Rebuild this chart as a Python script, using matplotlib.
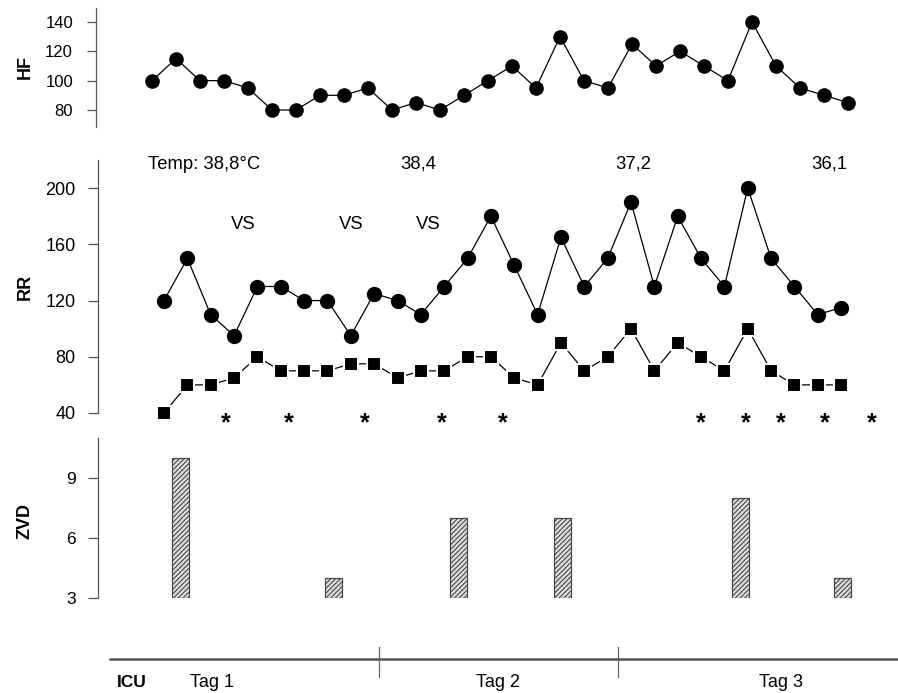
import matplotlib
matplotlib.use("Agg")
import matplotlib.pyplot as plt

plt.rcParams["font.family"] = ["Liberation Sans", "DejaVu Sans"]
plt.rcParams["hatch.linewidth"] = 0.8

# heart rate, one value per measurement
hf = [100, 115, 100, 100, 95, 80, 80, 90, 90, 95, 80, 85, 80, 90, 100,
      110, 95, 130, 100, 95, 125, 110, 120, 110, 100, 140, 110, 95, 90, 85]

# blood pressure (systolic / diastolic), one value per measurement
rr_sys = [120, 150, 110, 95, 130, 130, 120, 120, 95, 125, 120, 110, 130, 150, 180,
          145, 110, 165, 130, 150, 190, 130, 180, 150, 130, 200, 150, 130, 110, 115]
rr_dia = [40, 60, 60, 65, 80, 70, 70, 70, 75, 75, 65, 70, 70, 80, 80,
          65, 60, 90, 70, 80, 100, 70, 90, 80, 70, 100, 70, 60, 60, 60]

# asterisk and "VS" annotations (in measurement units)
star_pos = [2.66, 5.35, 8.6, 11.9, 14.5, 23.0, 24.9, 26.4, 28.3, 30.3]
vs_pos = [3.4, 8.0, 11.3]

# temperature notes
temp_pos = [-0.7, 10.9, 20.1, 28.5]
temp_labels = ["Temp: 38,8°C", "38,4", "37,2", "36,1"]

# central venous pressure bars
zvd_pos = [0.69, 7.24, 12.63, 17.05, 24.67, 29.04]
zvd = [10, 4, 7, 7, 8, 4]

days = ["Tag 1", "Tag 2", "Tag 3"]
day_label_pos = [0.30, 1.50, 2.68]
day_bounds = [1, 2]

W, H = 898, 693
fig = plt.figure(figsize=(W / 100, H / 100), dpi=100)


def box(l, r, t, b):
    return [l / W, 1 - b / H, (r - l) / W, (b - t) / H]


def style(ax, size, length=7.0, pad=8):
    for s in ["top", "right", "bottom"]:
        ax.spines[s].set_visible(False)
    ax.spines["left"].set_color("#555555")
    ax.spines["left"].set_linewidth(0.9)
    ax.tick_params(axis="y", direction="out", length=length, width=0.9, color="#555555",
                   labelsize=size, pad=pad)
    ax.set_xticks([])


# HF panel
ax1 = fig.add_axes(box(96, 880, 8, 127))
x1 = list(range(len(hf)))
ax1.plot(x1, hf, color="black", lw=0.9, marker="o", ms=9.5, clip_on=False)
ax1.set_xlim((96 - 152) / 24, (880 - 152) / 24)
ax1.set_ylim(68.4, 149.5)
ax1.set_yticks([80, 100, 120, 140])
style(ax1, 12, length=6.5, pad=10)

# RR panel
ax2 = fig.add_axes(box(98, 880, 160, 413))
x2 = list(range(len(rr_sys)))
ax2.plot(x2, rr_sys, color="black", lw=0.9, marker="o", ms=10, clip_on=False)
ax2.plot(x2, rr_dia, color="black", lw=0.9, marker="s", ms=10.5,
         mec="white", mew=1.5, clip_on=False)
xl = ((98 - 164) / 23.35, (880 - 164) / 23.35)
ax2.set_xlim(*xl)
ax2.set_ylim(40, 220)
ax2.set_yticks([40, 80, 120, 160, 200])
style(ax2, 13, length=7, pad=9)
for p in star_pos:
    ax2.text(p, 33.0, "*", ha="center", va="center", fontsize=18,
             fontweight="bold", clip_on=False)
for p in vs_pos:
    ax2.text(p, 174, "VS", ha="center", va="center", fontsize=13.3)
for p, t in zip(temp_pos, temp_labels):
    ax2.text(p, 217, t, ha="left" if p < 0 else "center", va="center", fontsize=13.3)

# ZVD panel
ax3 = fig.add_axes(box(98, 880, 438, 598))
ax3.bar(zvd_pos, [v - 3 for v in zvd], bottom=3, width=0.73,
        facecolor="#dcdcdc", edgecolor="#4a4a4a", hatch="///////", lw=0.9)
ax3.set_xlim(*xl)
ax3.set_ylim(3, 11)
ax3.set_yticks([3, 6, 9])
style(ax3, 12.5, length=7, pad=9)

# time line
ax4 = fig.add_axes(box(0, 898, 640, 693))
ax4.axis("off")
ax4.set_xlim(-140 / 239, (898 - 140) / 239)
ax4.set_ylim(0, 1)
ax4.plot([-30 / 239, 3.2], [0.64, 0.64], color="#555555", lw=1.8)
for d in day_bounds:
    ax4.plot([d, d], [0.30, 0.87], color="#666666", lw=0.9)
ax4.text(-23 / 239, 0.19, "ICU", ha="left", va="center", fontsize=12.5,
         fontweight="bold")
for p, t in zip(day_label_pos, days):
    ax4.text(p, 0.19, t, ha="center", va="center", fontsize=13)

# axis titles
for y, t in [(67, "HF"), (287, "RR"), (521, "ZVD")]:
    fig.text(25 / W, 1 - y / H, t, rotation=90, ha="center", va="center",
             fontsize=13, fontweight="bold")

fig.savefig("out.png", dpi=100)
